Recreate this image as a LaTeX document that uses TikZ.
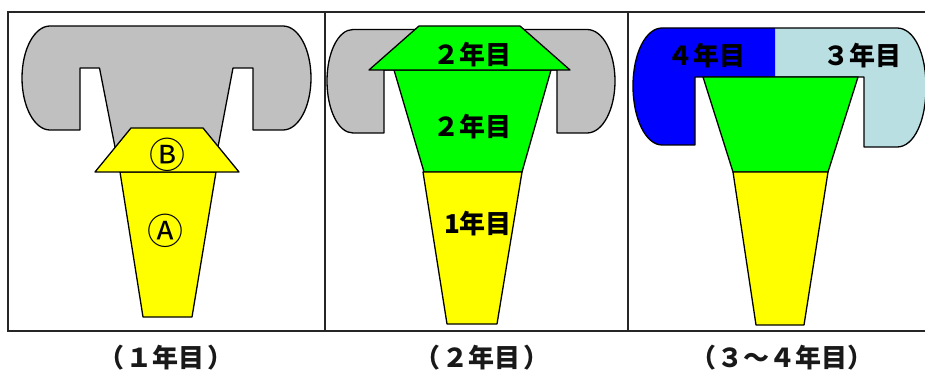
\documentclass[tikz,border=0pt]{standalone}
\usepackage{fontspec}
\setmainfont{Noto Sans CJK JP}
\definecolor{graybody}{HTML}{C0C0C0}
\definecolor{paleblue}{HTML}{B9DFE3}
\definecolor{grn}{HTML}{00FF00}
\definecolor{ylw}{HTML}{FFFF00}
\definecolor{blu}{HTML}{0000FF}
\tikzset{
  outline/.style={draw=black,line width=1.3pt,line join=round},
  frameline/.style={draw=black!85,line width=1.5pt},
  yearlabel/.style={font=\fontsize{26}{26}\selectfont\bfseries,inner sep=0pt,text=black},
  caption/.style={font=\fontsize{26}{26}\selectfont\bfseries,inner sep=0pt,text=black!90},
  circled/.style={font=\fontsize{36}{36}\selectfont,inner sep=0pt,text=black}
}
\begin{document}
\begin{tikzpicture}[x=1pt,y=-1pt]
\useasboundingbox (0,0) rectangle (925,371);
\clip (0,0) rectangle (925,371);
% frames
\draw[frameline] (925,12) -- (8,12) -- (8,331) -- (925,331);
\draw[frameline] (325,12) -- (325,331);
\draw[frameline] (627.8,12) -- (627.8,331);
% panel 1
\draw[outline,fill=graybody] (50,26) -- (283,26)
  .. controls (298.5,26) and (311,49.3) .. (311,78)
  .. controls (311,106.7) and (298.5,130) .. (283,130)
  -- (253,130) -- (253,68) -- (233,68) -- (218,147) -- (115,147) -- (99.5,68) -- (80,68) -- (80,130) -- (50,130)
  .. controls (34.5,130) and (22,106.7) .. (22,78)
  .. controls (22,49.3) and (34.5,26) .. (50,26) -- cycle;
\draw[outline,fill=ylw] (120,172) -- (216,172) -- (192,317) -- (143,317) -- cycle;
\draw[outline,fill=ylw] (131,128) -- (203,128) -- (239,172) -- (95,172) -- cycle;
\node[circled] (circB) at (167,155) {Ⓑ};
\node[circled] (circA) at (165,231) {Ⓐ};
% panel 2
\draw[outline,fill=graybody] (353,29.5) -- (587,29.5)
  .. controls (603,29.5) and (615,53) .. (615,81)
  .. controls (615,109) and (603,133) .. (587,133)
  -- (557,133) -- (557,70) -- (384,70) -- (384,133) -- (353,133)
  .. controls (338,133) and (327,109) .. (327,81)
  .. controls (327,53) and (338,29.5) .. (353,29.5) -- cycle;
\draw[outline,fill=grn] (394,70) -- (551,70) -- (522,172) -- (424,172) -- cycle;
\draw[outline,fill=ylw] (423,172) -- (522,172) -- (497,324) -- (447,324) -- cycle;
\draw[outline,fill=grn] (419,26) -- (520,26) -- (570,70) -- (369,70) -- cycle;
\node[yearlabel] (hat2) at (472,55) {２年目};
\node[yearlabel] (body2) at (472,127) {２年目};
\node[yearlabel] (base2) at (478,224) {1年目};
% panel 3
\fill[paleblue] (775,28) -- (897,28)
  .. controls (914,28) and (926,53) .. (926,87)
  .. controls (926,121) and (914,147) .. (897,147)
  -- (864,147) -- (864,77) -- (775,77) -- cycle;
\fill[blu] (775,28) -- (662,28)
  .. controls (646,28) and (633,53) .. (633,86)
  .. controls (633,119) and (646,145) .. (662,145)
  -- (695,145) -- (695,77) -- (775,77) -- cycle;
\draw[outline] (775,28) -- (662,28)
  .. controls (646,28) and (633,53) .. (633,86)
  .. controls (633,119) and (646,145) .. (662,145)
  -- (695,145) -- (695,77) -- (864,77) -- (864,147) -- (897,147)
  .. controls (914,147) and (926,121) .. (926,87)
  .. controls (926,53) and (914,28) .. (897,28) -- cycle;
\draw[outline,fill=grn] (703,77) -- (858,77) -- (828,172) -- (733,172) -- cycle;
\draw[outline,fill=ylw] (733,172) -- (828,172) -- (804,325) -- (756,325) -- cycle;
\node[yearlabel] (fourth) at (706,56) {４年目};
\node[yearlabel] (third) at (862,56) {３年目};
% captions
\node[caption] (cap1) at (166,358) {（\kern3pt １年目\kern3pt ）};
\node[caption] (cap2) at (482,358) {（\kern3pt ２年目\kern3pt ）};
\node[caption] (cap3) at (782,358) {（\kern1pt ３～４年目\kern1pt ）};
\end{tikzpicture}
\end{document}
